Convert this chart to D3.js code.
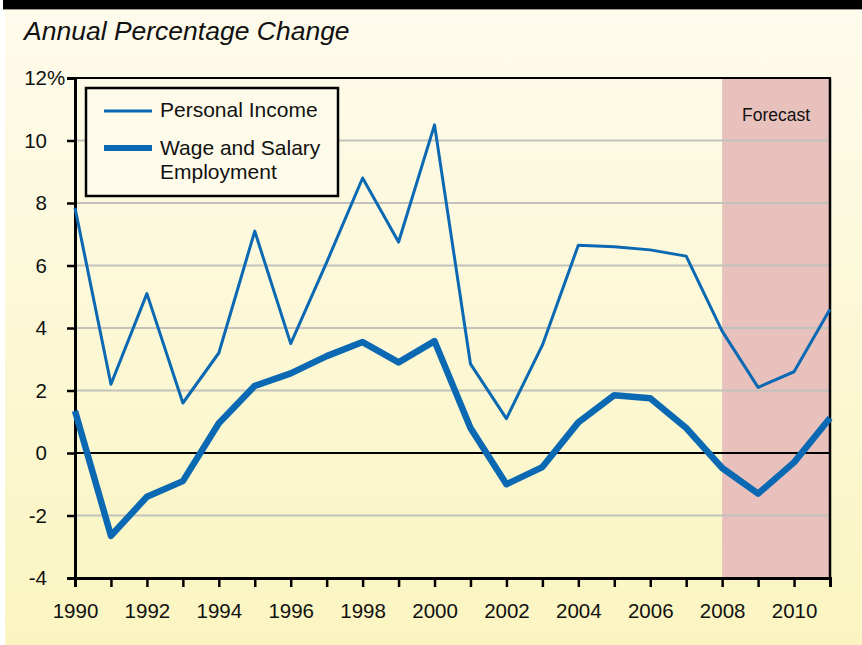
<!DOCTYPE html>
<html>
<head>
<meta charset="utf-8">
<script src="https://cdn.jsdelivr.net/npm/d3@7"></script>
<style>
  html, body { margin: 0; padding: 0; background: #ffffff; }
  svg { display: block; font-family: "Liberation Sans", Arial, sans-serif; }
</style>
</head>
<body>
<svg id="chart" width="862" height="645"></svg>
<script>
// ---- data ----
const years = [1990, 1991, 1992, 1993, 1994, 1995, 1996, 1997, 1998, 1999, 2000,
               2001, 2002, 2003, 2004, 2005, 2006, 2007, 2008, 2009, 2010, 2011];
const personalIncome = [7.85, 2.2, 5.1, 1.6, 3.2, 7.1, 3.5, 6.1, 8.8, 6.75, 10.5,
                        2.85, 1.1, 3.45, 6.65, 6.6, 6.5, 6.3, 3.9, 2.1, 2.6, 4.6];
const wageSalary = [1.35, -2.65, -1.4, -0.9, 0.95, 2.15, 2.55, 3.1, 3.55, 2.9, 3.58,
                    0.8, -1.0, -0.45, 0.98, 1.85, 1.75, 0.8, -0.48, -1.3, -0.3, 1.12];
const yTicks = [-4, -2, 0, 2, 4, 6, 8, 10, 12];
const xLabelYears = [1990, 1992, 1994, 1996, 1998, 2000, 2002, 2004, 2006, 2008, 2010];
const forecastStart = 2008;
const seriesNames = ["Personal Income", "Wage and Salary|Employment"];

const svg = d3.select("#chart");
const W = 862, H = 645;
const margin = { left: 75, right: 32, top: 78, bottom: 67 };
const FONT = "Liberation Sans, Arial, sans-serif";

const x = d3.scaleLinear().domain([1990, 2011]).range([margin.left, W - margin.right]);
const y = d3.scaleLinear().domain([-4, 12]).range([H - margin.bottom, margin.top]);

const BLUE = "#0a69b2";

// background
const defs = svg.append("defs");
const bg = defs.append("linearGradient").attr("id", "bg").attr("x1", 0).attr("y1", 0).attr("x2", 0).attr("y2", 1);
bg.append("stop").attr("offset", "0%").attr("stop-color", "#fefbed");
bg.append("stop").attr("offset", "100%").attr("stop-color", "#faf5c0");

svg.append("rect").attr("x", 5).attr("y", 0).attr("width", W - 5).attr("height", H).attr("fill", "url(#bg)");
svg.append("rect").attr("x", 3).attr("y", 0).attr("width", W - 3).attr("height", 9).attr("fill", "#000");
svg.append("line").attr("x1", 3).attr("x2", W).attr("y1", 9.5).attr("y2", 9.5)
  .attr("stroke", "#9a9a8a").attr("stroke-width", 1);

// title
svg.append("text")
  .attr("x", 24).attr("y", 40)
  .attr("font-size", 26.5).attr("font-style", "italic").attr("fill", "#111")
  .text("Annual Percentage Change");

// forecast band
svg.append("rect")
  .attr("x", x(forecastStart)).attr("y", y(12))
  .attr("width", x(2011) - x(forecastStart)).attr("height", y(-4) - y(12))
  .attr("fill", "#e8c1bd");

svg.append("text")
  .attr("x", (x(forecastStart) + x(2011)) / 2).attr("y", 121)
  .attr("text-anchor", "middle").attr("font-size", 17.5).attr("fill", "#111")
  .text("Forecast");

// grid
svg.append("g").selectAll("line")
  .data(yTicks.filter(d => d !== 0 && d !== 12 && d !== -4))
  .join("line")
  .attr("x1", x(1990)).attr("x2", x(2011))
  .attr("y1", d => y(d)).attr("y2", d => y(d))
  .attr("stroke", "#c2c2bc").attr("stroke-width", 2);

// zero line and frame
svg.append("line").attr("x1", x(1990)).attr("x2", x(2011)).attr("y1", y(0)).attr("y2", y(0))
  .attr("stroke", "#000").attr("stroke-width", 2);
svg.append("line").attr("x1", x(1990)).attr("x2", x(2011) + 1).attr("y1", y(12)).attr("y2", y(12))
  .attr("stroke", "#000").attr("stroke-width", 2);
svg.append("line").attr("x1", x(2011)).attr("x2", x(2011)).attr("y1", y(12)).attr("y2", y(-4))
  .attr("stroke", "#000").attr("stroke-width", 2.5);

// axes (plain hyphen for negatives, as in the original)
const yAxis = d3.axisLeft(y).tickValues(yTicks).tickSize(8).tickPadding(20)
  .tickFormat(d => String(d));
const gy = svg.append("g").attr("transform", `translate(${x(1990)},0)`).call(yAxis);
gy.select(".domain").attr("stroke", "#000").attr("stroke-width", 3);
gy.selectAll(".tick line").attr("stroke", "#000").attr("stroke-width", 2.5);
gy.selectAll(".tick text").attr("font-size", 20.5).attr("fill", "#111").attr("font-family", FONT);
// percent sign hangs after the top label
gy.selectAll(".tick").filter(d => d === 12).append("text")
  .attr("x", -28).attr("dy", "0.32em").attr("text-anchor", "start")
  .attr("font-size", 20.5).attr("fill", "#111").attr("font-family", FONT)
  .text("%");

const xAxis = d3.axisBottom(x).tickValues(years).tickSize(9).tickPadding(16)
  .tickFormat(d => xLabelYears.includes(d) ? String(d) : "");
const gx = svg.append("g").attr("transform", `translate(0,${y(-4)})`).call(xAxis);
gx.select(".domain").attr("stroke", "#000").attr("stroke-width", 3);
gx.selectAll(".tick line").attr("stroke", "#000").attr("stroke-width", 2.5);
gx.selectAll(".tick text").attr("font-size", 20.5).attr("fill", "#111").attr("font-family", FONT);

// lines
const line = d3.line().x((d, i) => x(years[i])).y(d => y(d));

svg.append("path").datum(personalIncome)
  .attr("d", line).attr("fill", "none")
  .attr("stroke", BLUE).attr("stroke-width", 3).attr("stroke-linejoin", "round");

svg.append("path").datum(wageSalary)
  .attr("d", line).attr("fill", "none")
  .attr("stroke", BLUE).attr("stroke-width", 6.5).attr("stroke-linejoin", "round");

// legend
const lg = svg.append("g");
lg.append("rect").attr("x", 86).attr("y", 88).attr("width", 252).attr("height", 108)
  .attr("fill", "#fefbea").attr("stroke", "#000").attr("stroke-width", 2.5);

const legendRows = [
  { name: seriesNames[0], w: 3, ly: 111, ty: [117] },
  { name: seriesNames[1], w: 6, ly: 148, ty: [155, 179] }
];
legendRows.forEach(r => {
  lg.append("line").attr("x1", 104).attr("x2", 152).attr("y1", r.ly).attr("y2", r.ly)
    .attr("stroke", BLUE).attr("stroke-width", r.w);
  r.name.split("|").forEach((t, i) => {
    lg.append("text").attr("x", 160).attr("y", r.ty[i])
      .attr("font-size", 21).attr("fill", "#111").text(t);
  });
});
</script>
</body>
</html>
